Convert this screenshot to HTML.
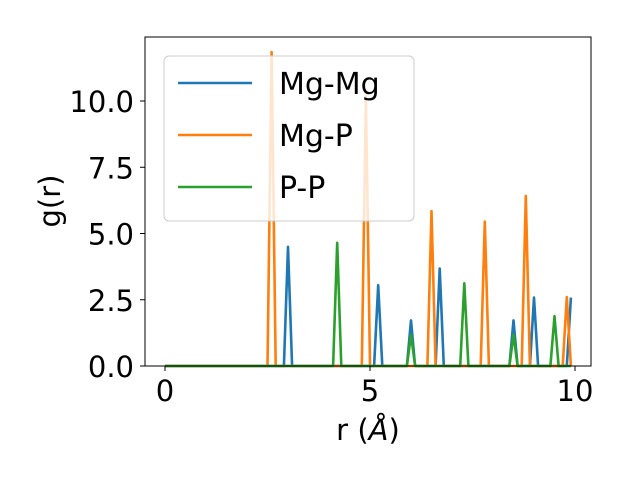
<!DOCTYPE html>
<html><head><meta charset="utf-8"><style>
body{margin:0;background:#fff}
svg{display:block;font-family:"DejaVu Sans","Liberation Sans",sans-serif}
</style></head><body>
<svg id="c" width="640" height="480" viewBox="0 0 640 480"></svg>
<script>
const rGrid = 0.1, rMax = 9.9;
const seriesNames = ["Mg-Mg","Mg-P","P-P"];
const seriesColors = ["#1f77b4","#ff7f0e","#2ca02c"];
const mgmgPeakR = [3.0,5.2,6.0,6.7,8.5,9.0,9.9];
const mgmgPeakG = [4.5,3.05,1.72,3.68,1.72,2.58,2.58];
const mgpPeakR = [2.6,4.9,6.5,7.8,8.8,9.8];
const mgpPeakG = [11.85,10.2,5.85,5.45,6.42,2.6];
const ppPeakR = [4.2,6.0,7.3,8.5,9.5];
const ppPeakG = [4.65,1.18,3.12,1.18,1.88];
const xTicks = [0,5,10];
const yTicks = [0,2.5,5,7.5,10];
const yTickLabels = ["0.0","2.5","5.0","7.5","10.0"];

const NS="http://www.w3.org/2000/svg";
const svg=document.getElementById('c');
const L=145,R=591,T=37,B=366;
const X=v=>165+v*41;
const Y=v=>366-v*26.5;
function mk(t,a){const e=document.createElementNS(NS,t);for(const k in a)e.setAttribute(k,a[k]);svg.appendChild(e);return e;}

function series(pr,pg){
  const n=Math.round(rMax/rGrid)+1;const pts=[];
  for(let i=0;i<n;i++){const r=+(i*rGrid).toFixed(2);let g=0;
    pr.forEach((p,j)=>{if(Math.abs(p-r)<1e-6)g=pg[j];});pts.push([r,g]);}
  return pts;
}
const data=[series(mgmgPeakR,mgmgPeakG),series(mgpPeakR,mgpPeakG),series(ppPeakR,ppPeakG)];
data.forEach((pts,i)=>{
  const p=mk('polyline',{points:pts.map(q=>X(q[0]).toFixed(1)+','+Y(q[1]).toFixed(1)).join(' '),fill:'none',stroke:seriesColors[i],'stroke-width':2.6,'stroke-linejoin':'round'});
  
  
});
const frame=mk('rect',{x:L,y:T,width:R-L,height:B-T,fill:'none',stroke:'#000','stroke-width':1});


xTicks.forEach(v=>{
  const t=mk('line',{x1:X(v),x2:X(v),y1:B,y2:B+5,stroke:'#000'});
  
  
  const l=mk('text',{x:X(v),y:B+35,'font-size':29,'text-anchor':'middle'});l.textContent=v;
  
  
});
yTicks.forEach((v,i)=>{
  const t=mk('line',{x1:L-5,x2:L,y1:Y(v),y2:Y(v),stroke:'#000'});
  
  
  const l=mk('text',{x:L-11,y:Y(v)+11,'font-size':29,'text-anchor':'end'});l.textContent=yTickLabels[i];
  
  
});
const xt=mk('text',{x:368,y:440,'font-size':29,'text-anchor':'middle'});
xt.innerHTML='r (<tspan font-style="italic">Å</tspan>)';


const yt=mk('text',{x:60,y:201,'font-size':29,'text-anchor':'middle',transform:'rotate(-90 60 201)'});
yt.textContent='g(r)';


const lg=mk('rect',{x:164,y:56,width:250,height:165,rx:5,fill:'rgba(255,255,255,0.8)',stroke:'#ccc'});


seriesNames.forEach((n,i)=>{
  const y=83+i*52;
  const ln=mk('line',{x1:178,x2:252,y1:y,y2:y,stroke:seriesColors[i],'stroke-width':2.6});
  
  
  const tx=mk('text',{x:279,y:y+11,'font-size':30});tx.textContent=n;
  
  
});
</script>
</body></html>
